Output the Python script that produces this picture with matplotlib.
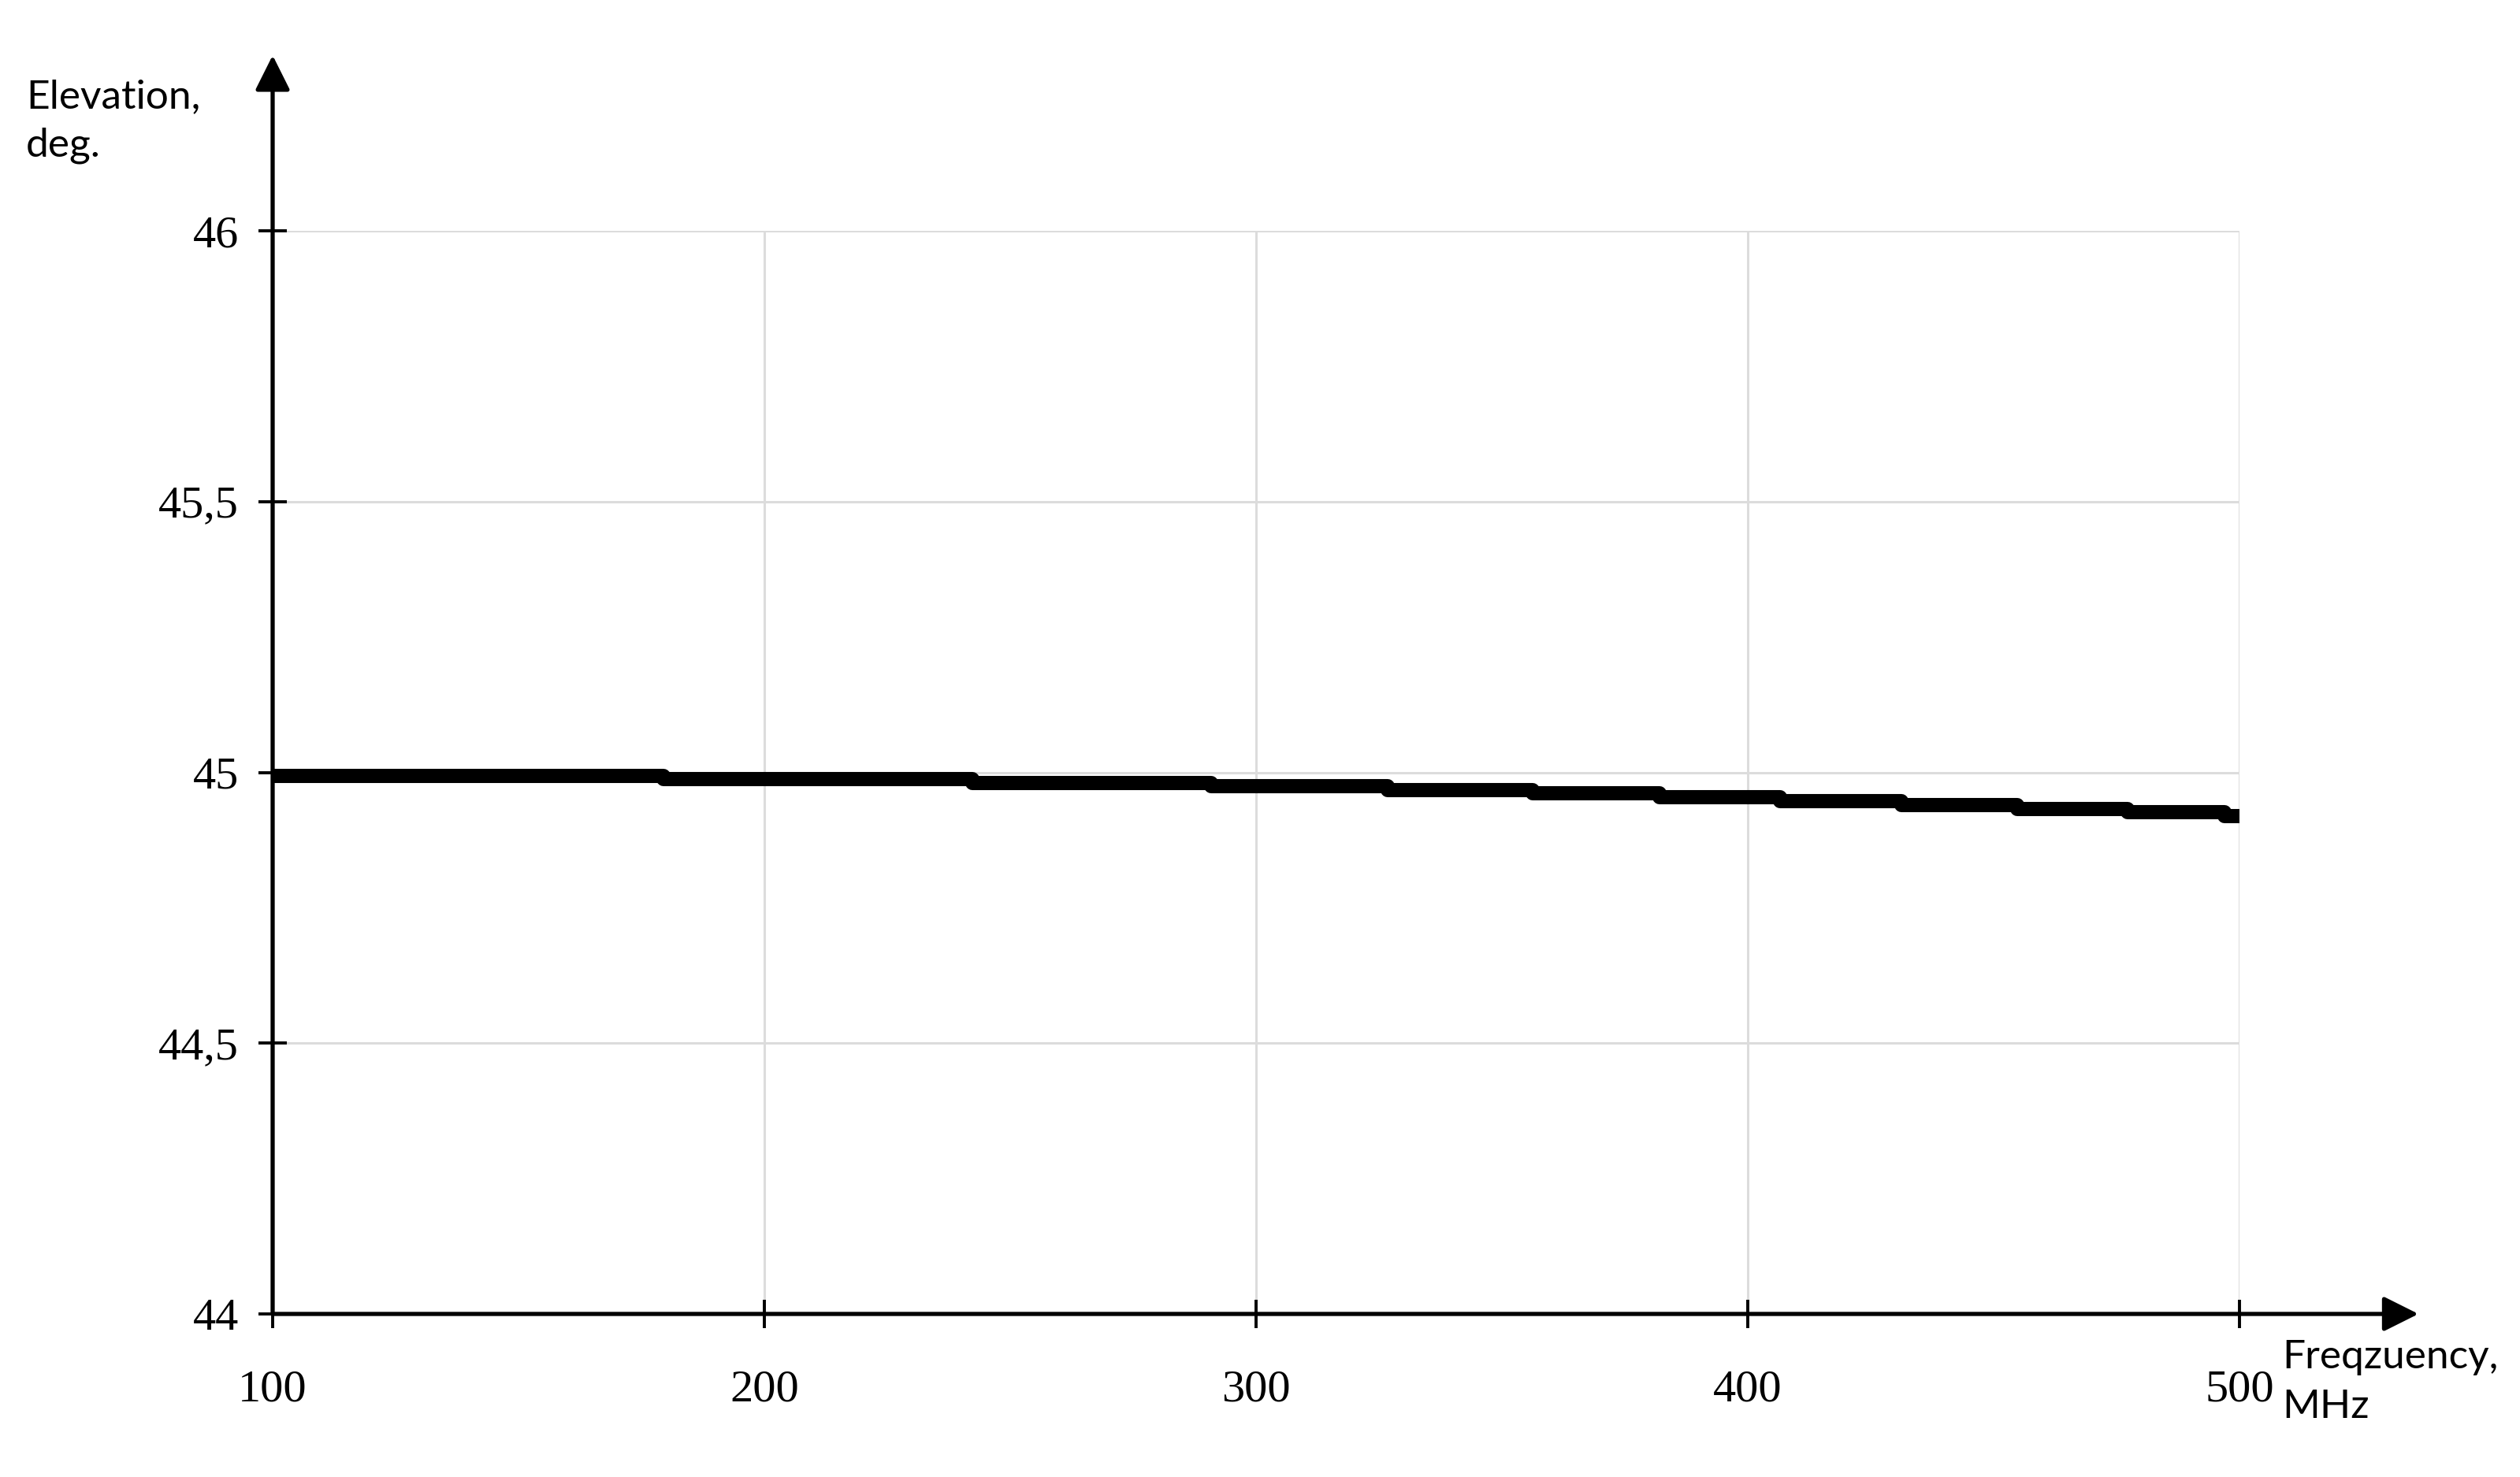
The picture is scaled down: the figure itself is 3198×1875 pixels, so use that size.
import matplotlib
matplotlib.use("Agg")
import matplotlib.pyplot as plt

# Data
freq_edges = [100, 179.5, 242.3, 290.9, 326.7, 356.2, 382.0, 406.5, 431.2, 454.8, 477.2, 497.0, 500]
elevation = [44.993, 44.987, 44.981, 44.975, 44.967, 44.961, 44.954, 44.947, 44.940, 44.933, 44.926, 44.919]
x_ticks = [100, 200, 300, 400, 500]
y_ticks = [44, 44.5, 45, 45.5, 46]
y_tick_labels = ["44", "44,5", "45", "45,5", "46"]
x_tick_labels = ["100", "200", "300", "400", "500"]

W, H = 3198, 1875
fig = plt.figure(figsize=(W / 100, H / 100), dpi=100)
ax = fig.add_axes([346 / W, 207 / H, (2842 - 346) / W, (1668 - 293) / H])

ys = elevation + [elevation[-1]]
ax.step(freq_edges, ys, where="post", color="black", lw=13, solid_capstyle="butt", zorder=5)

ax.set_xlim(100, 500)
ax.set_ylim(44, 46)
ax.set_xticks(x_ticks)
ax.set_xticklabels(x_tick_labels)
ax.set_yticks(y_ticks)
ax.set_yticklabels(y_tick_labels)

for s in ax.spines.values():
    s.set_visible(False)

ax.grid(True, color="#dcdcdc", lw=2.2, zorder=0)
ax.set_axisbelow(True)

serif = "Liberation Serif"
ax.tick_params(axis="both", direction="inout", length=26, width=2.8, color="black",
               labelsize=42, labelfontfamily=serif)
ax.tick_params(axis="y", pad=18)
ax.tick_params(axis="x", pad=38)

# Axis lines with arrows
arrow_kw = dict(arrowstyle="-|>,head_length=0.4,head_width=0.2", lw=3.8, color="black",
                mutation_scale=68, shrinkA=0, shrinkB=0)
ax.annotate("", xy=(0, 1.162), xytext=(0, 0), xycoords="axes fraction",
            arrowprops=arrow_kw, annotation_clip=False)
ax.annotate("", xy=(1.091, 0), xytext=(0, 0), xycoords="axes fraction",
            arrowprops=arrow_kw, annotation_clip=False)

sans = "Lato"
fig.text(33 / W, 1 - 137 / H, "Elevation,", family=sans, fontsize=37, va="baseline", ha="left")
fig.text(33 / W, 1 - 198 / H, "deg.", family=sans, fontsize=37, va="baseline", ha="left")
fig.text(2896 / W, 1 - 1737 / H, "Freqzuency,", family=sans, fontsize=37, va="baseline", ha="left")
fig.text(2896 / W, 1 - 1800 / H, "MHz", family=sans, fontsize=37, va="baseline", ha="left")

fig.savefig("out.png", dpi=100, facecolor="white")
